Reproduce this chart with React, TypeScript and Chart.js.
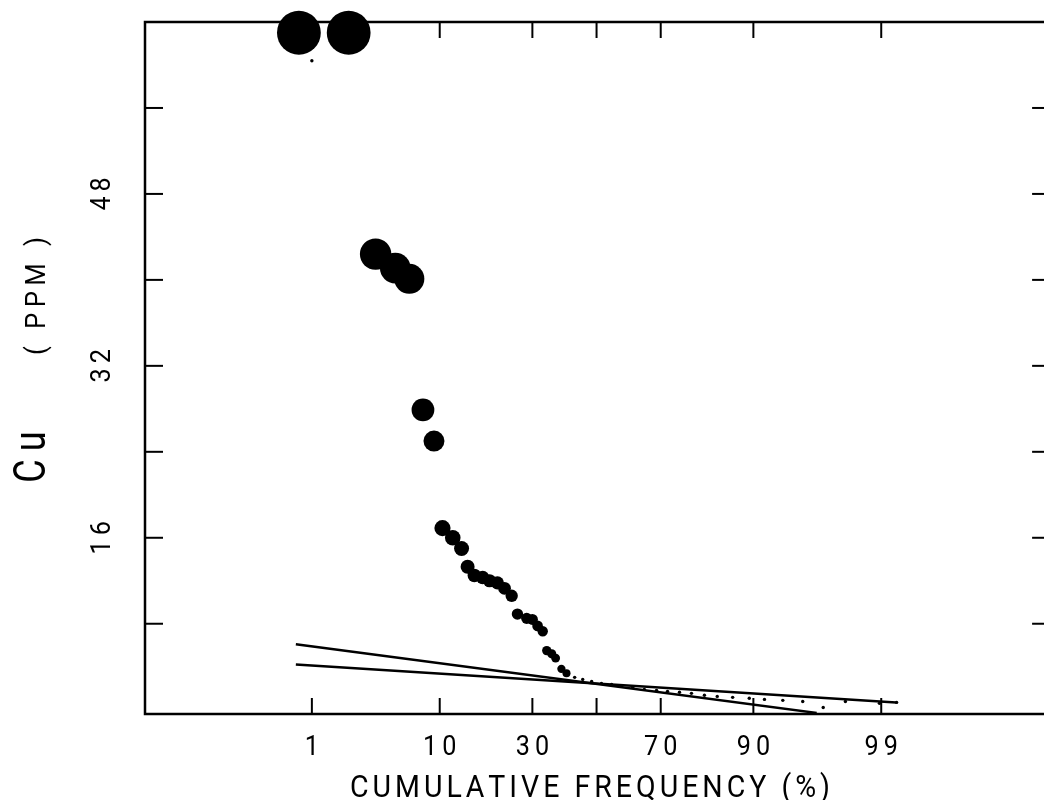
import React, { useEffect, useRef } from "react";
import { Chart, registerables } from "chart.js";

Chart.register(...registerables);

// ---- data (cumulative frequency in %, Cu in ppm) ----
const symbolFreq = [0.75, 2.14, 3.55, 5.0, 6.3, 7.8, 9.2, 10.4, 12.0, 13.5, 14.6, 15.9, 17.6, 19.1, 20.9, 22.6, 24.4, 25.9, 28.4, 30.0, 31.5, 33.0, 34.2, 35.7, 36.9, 38.7, 40.3];
const symbolCu = [63.0, 63.0, 42.4, 41.1, 40.1, 27.9, 25.0, 16.9, 16.0, 15.0, 13.3, 12.5, 12.3, 12.0, 11.8, 11.3, 10.6, 8.9, 8.5, 8.4, 7.8, 7.3, 5.5, 5.2, 4.8, 3.8, 3.4];

const dotFreq = [1.0, 42.9, 45.5, 48.4, 51.6, 54.9, 58.1, 61.6, 65.2, 68.8, 71.9, 75.1, 78.1, 81.1, 83.8, 86.7, 89.4, 91.5, 93.6, 95.4, 96.8, 97.9, 98.96, 99.29];
const dotCu = [60.4, 3.01, 2.82, 2.63, 2.45, 2.36, 2.17, 2.08, 1.89, 1.8, 1.71, 1.62, 1.52, 1.34, 1.24, 1.15, 1.06, 0.96, 0.87, 0.77, 0.21, 0.77, 0.59, 0.68];

const fitAFreq = [0.7, 96.4];
const fitACu = [6.1, -0.3];
const fitBFreq = [0.7, 99.28];
const fitBCu = [4.2, 0.68];

const xTickFreq = [1, 10, 30, 50, 70, 90, 99];
const xTickLabels = ["1", "10", "30", "", "70", "90", "99"];
const yTickValues = [8, 16, 24, 32, 40, 48, 56];
const yTickLabels = ["", "16", "", "32", "", "48", ""];

const xTitle = "CUMULATIVE FREQUENCY (%)";
const yTitleMain = "Cu";
const yTitleUnit = "( PPM )";

const FONT = 'Roboto, "DejaVu Sans", sans-serif';

// inverse of the standard normal CDF (probability-paper axis transform)
function probit(p: number): number {
  const a = [-3.969683028665376e1, 2.209460984245205e2, -2.759285104469687e2, 1.38357751867269e2, -3.066479806614716e1, 2.506628277459239];
  const b = [-5.447609879822406e1, 1.615858368580409e2, -1.556989798598866e2, 6.680131188771972e1, -1.328068155288572e1];
  const c = [-7.784894002430293e-3, -3.223964580411365e-1, -2.400758277161838, -2.549732539343734, 4.374664141464968, 2.938163982698783];
  const d = [7.784695709041462e-3, 3.224671290700398e-1, 2.445134137142996, 3.754408661907416];
  const plow = 0.02425;
  if (p < plow) {
    const q = Math.sqrt(-2 * Math.log(p));
    return (((((c[0] * q + c[1]) * q + c[2]) * q + c[3]) * q + c[4]) * q + c[5]) / ((((d[0] * q + d[1]) * q + d[2]) * q + d[3]) * q + 1);
  }
  if (p <= 1 - plow) {
    const q = p - 0.5;
    const r = q * q;
    return ((((((a[0] * r + a[1]) * r + a[2]) * r + a[3]) * r + a[4]) * r + a[5]) * q) / (((((b[0] * r + b[1]) * r + b[2]) * r + b[3]) * r + b[4]) * r + 1);
  }
  const q = Math.sqrt(-2 * Math.log(1 - p));
  return -(((((c[0] * q + c[1]) * q + c[2]) * q + c[3]) * q + c[4]) * q + c[5]) / ((((d[0] * q + d[1]) * q + d[2]) * q + d[3]) * q + 1);
}

const toPoints = (freq: number[], vals: number[]) => freq.map((p, i) => ({ x: probit(p / 100), y: vals[i] }));

function drawLabel(
  ctx: CanvasRenderingContext2D,
  text: string,
  cx: number,
  cy: number,
  size: number,
  opts: { rot?: number; spacing?: number; sx?: number; length?: number } = {}
) {
  ctx.save();
  ctx.font = `400 ${size}px ${FONT}`;
  ctx.fillStyle = "#000";
  ctx.textBaseline = "alphabetic";
  ctx.textAlign = "left";
  const chars = Array.from(text);
  const w = chars.map((ch) => ctx.measureText(ch).width);
  const natural = w.reduce((s, v) => s + v, 0);
  const sx = opts.sx ?? 1;
  let spacing = opts.spacing ?? 0;
  if (opts.length != null && chars.length > 1) spacing = (opts.length - natural * sx) / (chars.length - 1);
  const total = natural * sx + spacing * (chars.length - 1);
  const cap = ctx.measureText("H").actualBoundingBoxAscent;
  ctx.translate(cx, cy);
  ctx.rotate(opts.rot ?? 0);
  let x = -total / 2;
  chars.forEach((ch, i) => {
    ctx.save();
    ctx.translate(x, cap / 2);
    ctx.scale(sx, 1);
    ctx.fillText(ch, 0, 0);
    ctx.restore();
    x += w[i] * sx + spacing;
  });
  ctx.restore();
}

const framePlugin = {
  id: "probFrame",
  beforeDraw(chart: any) {
    const { ctx, width, height } = chart;
    ctx.save();
    ctx.fillStyle = "#fff";
    ctx.fillRect(0, 0, width, height);
    ctx.restore();
  },
  beforeDatasetsDraw(chart: any) {
    const { ctx, chartArea: a, scales } = chart;
    const xs = scales.x;
    const ys = scales.y;
    const line = (x1: number, y1: number, x2: number, y2: number) => {
      ctx.beginPath();
      ctx.moveTo(x1, y1);
      ctx.lineTo(x2, y2);
      ctx.stroke();
    };
    ctx.save();
    ctx.strokeStyle = "#000";
    ctx.lineWidth = 2.5;
    ctx.strokeRect(a.left, a.top, a.right - a.left, a.bottom - a.top);
    ctx.lineWidth = 2;
    xTickFreq.forEach((p) => {
      const x = xs.getPixelForValue(probit(p / 100));
      line(x, a.bottom, x, a.bottom - 16);
      line(x, a.top, x, a.top + 16);
    });
    yTickValues.forEach((v) => {
      const y = ys.getPixelForValue(v);
      line(a.left, y, a.left + 18, y);
      line(a.right, y, a.right - 16, y);
    });
    ctx.restore();

    // tick labels
    xTickFreq.forEach((p, i) => {
      const lab = xTickLabels[i];
      if (!lab) return;
      const x = xs.getPixelForValue(probit(p / 100));
      drawLabel(ctx, lab, x, 745, 28, { spacing: 5, sx: 0.9 });
    });
    yTickValues.forEach((v, i) => {
      const lab = yTickLabels[i];
      if (!lab) return;
      const y = ys.getPixelForValue(v);
      drawLabel(ctx, lab, 100, y, 28, { rot: -Math.PI / 2, spacing: 5, sx: 0.9 });
    });
    // titles
    drawLabel(ctx, xTitle, 590, 786, 31, { length: 480, sx: 0.92 });
    drawLabel(ctx, yTitleUnit, 35, 296, 28, { rot: -Math.PI / 2, length: 118, sx: 0.92 });
    drawLabel(ctx, yTitleMain, 29, 457, 45, { rot: -Math.PI / 2, sx: 0.8, spacing: 8 });
  },
};

export default function App() {
  const ref = useRef<HTMLCanvasElement>(null);
  useEffect(() => {
    if (!ref.current) return;
    const chart = new Chart(ref.current, {
      type: "scatter",
      data: {
        datasets: [
          {
            label: "fit A",
            type: "line",
            data: toPoints(fitAFreq, fitACu),
            borderColor: "#000",
            borderWidth: 2.5,
            pointRadius: 0,
            fill: false,
            tension: 0,
          },
          {
            label: "fit B",
            type: "line",
            data: toPoints(fitBFreq, fitBCu),
            borderColor: "#000",
            borderWidth: 2.5,
            pointRadius: 0,
            fill: false,
            tension: 0,
          },
          {
            label: "small",
            data: toPoints(dotFreq, dotCu),
            pointRadius: 1.7,
            backgroundColor: "#000",
            borderWidth: 0,
            clip: false,
          },
          {
            label: "Cu",
            data: toPoints(symbolFreq, symbolCu),
            pointRadius: (c: any) => 3 + 0.3 * (c.raw ? c.raw.y : 0),
            backgroundColor: "#000",
            borderWidth: 0,
            clip: false,
          },
        ],
      } as any,
      options: {
        responsive: false,
        animation: false,
        events: [],
        layout: { padding: { top: 22, right: 21, left: 0, bottom: 0 } },
        plugins: { legend: { display: false }, tooltip: { enabled: false } },
        scales: {
          x: {
            type: "linear",
            min: -3.69,
            max: 3.69,
            grid: { display: false },
            border: { display: false },
            ticks: { display: false },
            afterBuildTicks: (s: any) => {
              s.ticks = xTickFreq.map((p) => ({ value: probit(p / 100) }));
            },
            afterFit: (s: any) => {
              s.height = 86;
            },
          },
          y: {
            type: "linear",
            min: -0.4,
            max: 64,
            grid: { display: false },
            border: { display: false },
            ticks: { display: false },
            afterBuildTicks: (s: any) => {
              s.ticks = yTickValues.map((v) => ({ value: v }));
            },
            afterFit: (s: any) => {
              s.width = 145;
            },
          },
        },
      } as any,
      plugins: [framePlugin],
    });
    return () => chart.destroy();
  }, []);
  return (
    <div style={{ position: "absolute", left: 0, top: 0, width: 1044, height: 800, overflow: "hidden", background: "#fff" }}>
      <canvas ref={ref} width={1070} height={800} style={{ display: "block", width: 1070, height: 800 }} />
    </div>
  );
}
